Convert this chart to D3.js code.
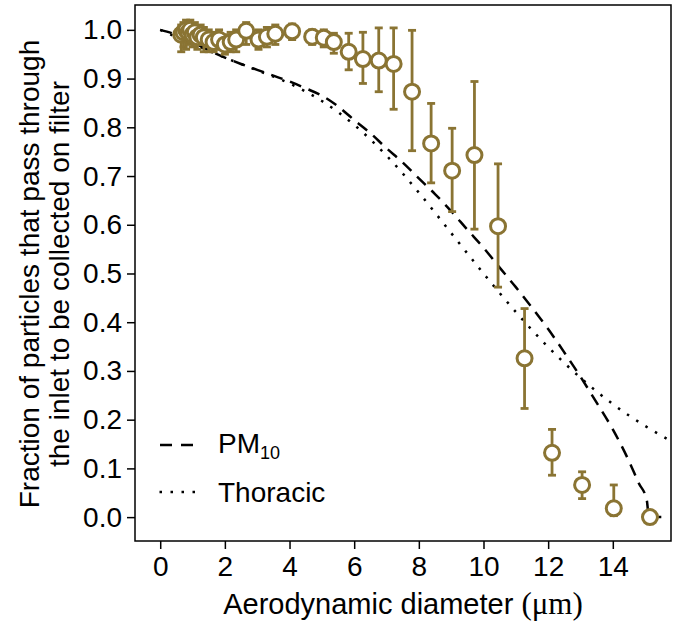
<!DOCTYPE html>
<html>
<head>
<meta charset="utf-8">
<script src="https://cdn.jsdelivr.net/npm/d3@7"></script>
<style>
  body { margin: 0; background: #fff; }
  svg { display: block; font-family: 'Liberation Sans', Arial, sans-serif; }
</style>
</head>
<body>
<svg id="chart" width="678" height="624"></svg>
<script>
// measured points (aerodynamic diameter, fraction collected) with error bar ends
const diameter = [0.65, 0.72, 0.8, 0.87, 0.93, 1.0, 1.07, 1.15, 1.25, 1.35, 1.5, 1.65, 1.82, 2.0, 2.18, 2.35,
  2.66, 3.04, 3.3, 3.56, 4.08, 4.7, 5.06, 5.37, 5.83, 6.27, 6.76, 7.22, 7.79, 8.38, 9.03, 9.72, 10.45,
  11.27, 12.12, 13.05, 14.03, 15.15];
const fraction = [0.99, 0.995, 1.0, 0.995, 1.0, 0.99, 0.995, 0.985, 0.99, 0.985, 0.98, 0.975, 0.98, 0.97, 0.975, 0.98,
  0.998, 0.98, 0.986, 0.992, 0.997, 0.986, 0.984, 0.975, 0.955, 0.94, 0.937, 0.93, 0.873, 0.767, 0.711, 0.743, 0.597,
  0.326, 0.132, 0.066, 0.018, 0.0];
const errLow = [0.955, 0.965, 0.96, 0.97, 0.975, 0.965, 0.97, 0.96, 0.97, 0.955, 0.955, 0.955, 0.96, 0.95, 0.955, 0.955,
  0.97, 0.96, 0.965, 0.97, 0.98, 0.97, 0.965, 0.952, 0.918, 0.89, 0.873, 0.837, 0.752, 0.686, 0.627, 0.591, 0.472,
  0.223, 0.086, 0.038, 0.003, 0.0];
const errHigh = [1.01, 1.015, 1.02, 1.015, 1.02, 1.01, 1.015, 1.005, 1.01, 1.005, 1.0, 0.995, 1.0, 0.99, 0.995, 1.0,
  1.015, 1.0, 1.005, 1.01, 1.012, 1.0, 1.0, 0.993, 0.993, 0.995, 1.004, 1.004, 0.999, 0.849, 0.798, 0.894, 0.725,
  0.428, 0.18, 0.093, 0.066, 0.0];

// PM10 curve (dashed)
const pm10D = [0, 0.5, 1, 1.5, 2, 2.5, 3, 3.5, 4, 4.5, 5, 5.5, 6, 6.5, 7, 7.5, 8, 8.5, 9, 9.5, 10, 10.5,
  11, 11.5, 12, 12.5, 13, 13.5, 14, 14.5, 14.8, 15.05, 15.12, 15.5];
const pm10F = [1.0, 0.99, 0.975, 0.958, 0.943, 0.93, 0.918, 0.906, 0.894, 0.88, 0.865, 0.843, 0.815, 0.788, 0.757,
  0.728, 0.695, 0.663, 0.628, 0.59, 0.553, 0.512, 0.472, 0.43, 0.386, 0.338, 0.288, 0.235, 0.18, 0.115, 0.07,
  0.035, 0.0, 0.0];

// Thoracic curve (dotted)
const thorD = [0, 0.5, 1, 1.5, 2, 3, 4, 5, 6, 7, 8, 9, 10, 11, 12, 13, 14, 15, 15.8];
const thorF = [1.0, 0.985, 0.971, 0.957, 0.943, 0.917, 0.89, 0.854, 0.805, 0.742, 0.666, 0.583, 0.5, 0.421,
  0.349, 0.286, 0.232, 0.187, 0.156];

const xTicks = [0, 2, 4, 6, 8, 10, 12, 14];
const yTicks = [0, 0.1, 0.2, 0.3, 0.4, 0.5, 0.6, 0.7, 0.8, 0.9, 1.0];

const gold = '#8a7433';
const box = { left: 135, right: 671, top: 5, bottom: 541 };

const svg = d3.select('#chart');

const x = d3.scaleLinear().domain([-0.78, 15.8]).range([box.left, box.right]);
const y = d3.scaleLinear().domain([-0.049, 1.051]).range([box.bottom, box.top]);

svg.append('clipPath').attr('id', 'clip')
  .append('rect')
  .attr('x', box.left).attr('y', box.top)
  .attr('width', box.right - box.left).attr('height', box.bottom - box.top);

// axes
const yAxis = svg.append('g')
  .attr('transform', `translate(${box.left},0)`)
  .call(d3.axisLeft(y).tickValues(yTicks).tickFormat(d3.format('.1f')).tickSize(8).tickPadding(5));
const xAxis = svg.append('g')
  .attr('transform', `translate(0,${box.bottom})`)
  .call(d3.axisBottom(x).tickValues(xTicks).tickSize(8).tickPadding(7));

[xAxis, yAxis].forEach(a => {
  a.select('.domain').remove();
  a.selectAll('line').attr('stroke', '#000').attr('stroke-width', 1.5);
  a.selectAll('text').attr('font-size', 28).attr('fill', '#000')
    .attr('font-family', "'Liberation Sans', Arial, sans-serif");
});

svg.append('rect')
  .attr('x', box.left).attr('y', box.top)
  .attr('width', box.right - box.left).attr('height', box.bottom - box.top)
  .attr('fill', 'none').attr('stroke', '#000').attr('stroke-width', 1.5);

// curves
const line = d3.line().x(d => x(d[0])).y(d => y(d[1])).curve(d3.curveMonotoneX);
const plot = svg.append('g').attr('clip-path', 'url(#clip)');

plot.append('path')
  .datum(thorD.map((d, i) => [d, thorF[i]]))
  .attr('d', line)
  .attr('fill', 'none').attr('stroke', '#000').attr('stroke-width', 2.5)
  .attr('stroke-dasharray', '2.5,8.5');

plot.append('path')
  .datum(pm10D.map((d, i) => [d, pm10F[i]]))
  .attr('d', line)
  .attr('fill', 'none').attr('stroke', '#000').attr('stroke-width', 2.5)
  .attr('stroke-dasharray', '12,8');

// error bars and markers
const pts = diameter.map((d, i) => ({ d, f: fraction[i], lo: errLow[i], hi: errHigh[i] }));
const cap = 4;

const bars = plot.append('g').attr('stroke', gold).attr('stroke-width', 2.8);
pts.forEach(p => {
  if (p.hi - p.lo <= 0) return;
  bars.append('line').attr('x1', x(p.d)).attr('x2', x(p.d)).attr('y1', y(p.lo)).attr('y2', y(p.hi));
  bars.append('line').attr('x1', x(p.d) - cap).attr('x2', x(p.d) + cap).attr('y1', y(p.lo)).attr('y2', y(p.lo));
  bars.append('line').attr('x1', x(p.d) - cap).attr('x2', x(p.d) + cap).attr('y1', y(p.hi)).attr('y2', y(p.hi));
});

plot.selectAll('circle.pt')
  .data(pts)
  .enter()
  .append('circle')
  .classed('pt', true)
  .attr('cx', p => x(p.d))
  .attr('cy', p => y(p.f))
  .attr('r', 7.5)
  .attr('fill', '#fff')
  .attr('stroke', gold)
  .attr('stroke-width', 3);

// legend
const legend = svg.append('g');
legend.append('line')
  .attr('x1', 160).attr('x2', 194).attr('y1', 445).attr('y2', 445)
  .attr('stroke', '#000').attr('stroke-width', 2.5).attr('stroke-dasharray', '12,9');
legend.append('line')
  .attr('x1', 159.5).attr('x2', 197).attr('y1', 492).attr('y2', 492)
  .attr('stroke', '#000').attr('stroke-width', 2.5).attr('stroke-dasharray', '2.5,8.5');
const pmText = legend.append('text').attr('x', 218).attr('y', 453).attr('font-size', 28);
pmText.append('tspan').text('PM');
pmText.append('tspan').attr('font-size', 18).attr('dy', 6).text('10');
legend.append('text').attr('x', 218).attr('y', 502).attr('font-size', 28).text('Thoracic');

// axis titles
const xTitle = svg.append('text')
  .attr('x', 403).attr('y', 614)
  .attr('text-anchor', 'middle')
  .attr('font-size', 29);
xTitle.append('tspan').text('Aerodynamic diameter ');
xTitle.append('tspan').attr('font-family', "'Liberation Serif', 'Times New Roman', serif").attr('font-size', 31).text('(μm)');

const yTitle = svg.append('text')
  .attr('transform', 'translate(0,274) rotate(-90)')
  .attr('text-anchor', 'middle')
  .attr('font-size', 28);
yTitle.append('tspan').attr('x', 0).attr('y', 39).text('Fraction of particles that pass through');
yTitle.append('tspan').attr('x', 0).attr('y', 69).text('the inlet to be collected on filter');
</script>
</body>
</html>
